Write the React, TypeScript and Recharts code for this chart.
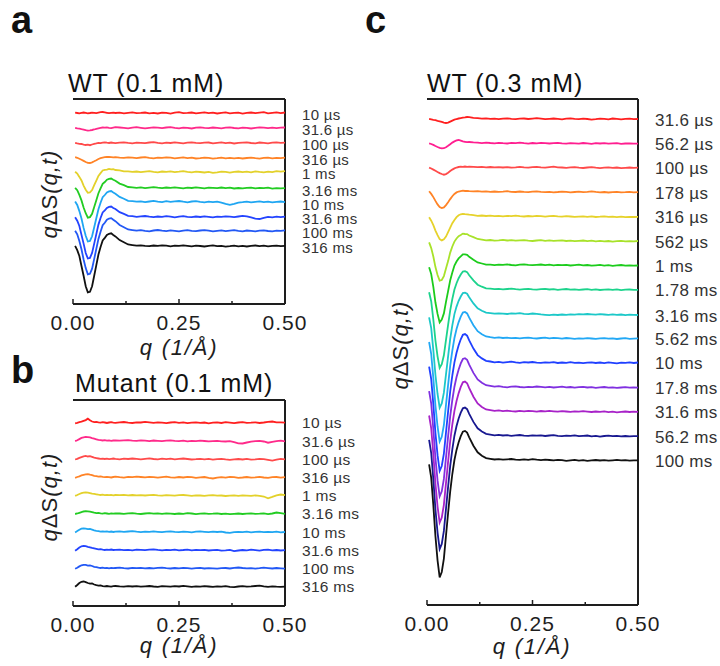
import React from 'react';
import { LineChart, Line, XAxis, YAxis, ReferenceLine } from 'recharts';

const FONT = '"Liberation Sans", Arial, Helvetica, sans-serif';
const INK = '#1e1e1e';
const AXIS_H = 36;
const LM = 30; // room left of the frame for the first tick label

// q grid (1/Å): fine steps through the low-q feature, coarser afterwards
const qGrid = [
  0.005, 0.01, 0.015, 0.02, 0.025, 0.03, 0.035, 0.04, 0.045, 0.05,
  0.055, 0.06, 0.065, 0.07, 0.075, 0.08, 0.085, 0.09, 0.095, 0.1,
  0.11, 0.12, 0.13, 0.14, 0.15, 0.16, 0.17, 0.18, 0.19, 0.2,
  0.21, 0.22, 0.23, 0.24, 0.25, 0.26, 0.27, 0.28, 0.29, 0.3,
  0.31, 0.32, 0.33, 0.34, 0.35, 0.36, 0.37, 0.38, 0.39, 0.4,
  0.41, 0.42, 0.43, 0.44, 0.45, 0.46, 0.47, 0.48, 0.49, 0.5,
];
const qTicks = [0, 0.125, 0.25, 0.375, 0.5];
const qMajor = [0, 0.25, 0.5];

// ---- panel a : WT (0.1 mM) ----
const a_10us = [
  0.3, 0, -0.4, 0.2, 0.5, 0.1, -0.3, 0, 0.4, 0.2, -0.2, 0.3, 0.8, 1.0, 0.6, 0.2, -0.2, 0.1, 0.4, 0,
  0.3, -0.4, 0.2, 0.6, -0.2, 0.1, 0.5, -0.3, 0.2, -0.5, 0.4, 0.1, -0.6, 0.3, 0.8, -0.2, 0.1, 0.5, -0.4, 0.2,
  0.7, -0.1, 0.3, -0.5, 0.2, 0.6, -0.3, 0.1, 0.4, -0.6, 0.2, 0.5, -0.2, 0.3, 0.8, -0.4, 0.1, 0.6, -0.2, 0.5,
];
const a_31_6us = [
  0.2, -0.3, -0.6, -1.2, -1.6, -2.2, -2.6, -2.4, -2.0, -1.5, -0.8, -0.3, 0.2, 0.5, 0.3, 0.6, 0.2, -0.1, 0.4, 0.8,
  0.5, 0.1, -0.3, 0.4, 0.8, 0.2, -0.4, 0.1, 0.6, 0.3, -0.2, 0.5, 0.9, 0.2, -0.3, 0.4, 0.1, -0.5, 0.3, 0.7,
  0.2, -0.2, 0.5, 0.1, -0.4, 0.3, 0.6, 0.0, -0.3, 0.4, 0.2, -0.5, 0.1, 0.6, 0.3, -0.2, 0.4, -0.1, 0.3, 0.5,
];
const a_100us = [
  0.1, -0.4, -0.8, -1.0, -1.6, -2.0, -1.7, -2.2, -1.5, -0.9, -0.4, 0.2, -0.1, 0.4, 0.7, 0.3, 0.0, 0.5, 0.2, -0.2,
  0.3, 0.6, 0.1, -0.3, 0.4, 0.2, -0.2, 0.5, 0.8, 0.1, -0.4, 0.3, 0.0, 0.6, 0.2, -0.3, 0.4, 0.7, 0.1, -0.2,
  0.3, 0.5, -0.4, 0.2, 0.6, -0.1, 0.3, -0.5, 0.1, 0.4, 0.7, 0.0, -0.3, 0.5, 0.2, -0.4, 0.3, 0.6, 0.1, 0.4,
];
const a_316us = [
  0.8, 0.2, -0.8, -1.8, -2.9, -4.0, -4.8, -5.0, -4.3, -3.3, -2.2, -1.0, -0.2, 0.4, 0.8, 1.0, 1.2, 0.9, 0.6, 0.8,
  0.4, 0.1, 0.6, 0.3, -0.2, 0.5, 0.9, 0.2, -0.3, 0.4, 0.1, 0.7, 0.3, -0.4, 0.2, 0.6, -0.1, 0.3, -0.5, -0.2,
  0.4, 0.1, -0.6, -0.2, 0.3, -0.4, 0.1, -0.3, 0.2, -0.5, 0.0, 0.4, -0.2, -0.6, 0.1, 0.3, -0.3, 0.2, -0.1, 0.3,
];
const a_1ms = [
  0.3, -1.5, -4.9, -8.5, -13.6, -17.7, -20.8, -20.4, -18.1, -13.2, -8.6, -3.9, -1.1, 1.5, 2.2, 2.4, 3.1, 2.7, 2.8, 2.0,
  1.6, 0.6, 0.7, 0.1, 0.5, -0.2, 0.4, 0.8, 0.2, -0.3, 0.5, 0.1, 0.6, -0.2, 0.3, 0.9, 0.2, -0.4, 0.3, 0.0,
  -0.5, 0.2, -0.8, -0.3, 0.4, 0.1, -0.6, 0.2, 0.5, -0.2, 0.3, -0.4, 0.6, 0.1, -0.3, 0.4, -0.2, 0.8, 0.3, 0.9,
];
const a_3_16ms = [
  0.2, -2.2, -6.9, -12.4, -19.5, -25.2, -29.6, -29.1, -25.8, -19.0, -12.3, -5.2, -0.4, 4.2, 6.0, 8.3, 9.1, 9.5, 8.2, 7.2,
  4.4, 2.9, 1.0, 0.7, 0.2, 0.6, -0.1, 0.4, 0.9, 0.3, -0.2, 0.5, 0.1, 0.7, 0.2, -0.3, 0.4, 0.0, 0.6, 0.2,
  -0.4, 0.3, 0.1, -0.2, 0.5, -0.1, 0.3, -0.5, 0.0, -0.3, 0.2, 0.4, -0.4, 0.1, -0.2, 0.3, -0.6, -0.1, -0.4, -0.2,
];
const a_10ms = [
  0.4, -3.0, -9.1, -16.5, -25.9, -33.7, -39.5, -38.9, -34.3, -25.3, -16.2, -7.2, -0.8, 4.8, 7.0, 9.6, 10.6, 11.0, 9.5, 8.3,
  5.1, 3.3, 1.2, 0.9, 0.3, 0.7, -0.2, 0.5, 1.1, 0.4, -0.1, 0.8, 0.2, 0.6, 1.0, 0.3, -0.3, 0.5, 0.9, 0.2,
  -0.4, 0.3, -0.2, 0.4, -0.6, -1.8, -2.8, -1.9, -0.7, -0.2, 0.4, -0.3, 0.2, 0.6, -0.1, 0.3, -0.4, 0.2, 0.5, -0.1,
];
const a_31_6ms = [
  -0.2, -3.7, -9.0, -17.9, -26.6, -36.0, -41.5, -40.9, -35.9, -26.6, -17.1, -7.6, -1.0, 4.6, 6.6, 9.1, 10.1, 10.5, 9.0, 8.0,
  4.8, 3.1, 1.2, 0.8, 0.2, 0.6, 1.0, 0.3, -0.2, 0.5, 0.1, 0.8, 0.3, -0.3, 0.4, 0.9, 0.2, -0.1, 0.5, 0.0,
  0.6, 0.2, -0.3, 0.4, 0.1, 0.7, 0.3, -0.2, 0.5, 1.2, 0.6, -0.4, -1.6, -2.0, -0.8, 0.2, -0.3, 0.4, -0.2, 0.3,
];
const a_100ms = [
  0.3, -3.3, -10.0, -18.2, -28.5, -37.1, -43.4, -42.8, -37.7, -27.9, -17.9, -7.9, -0.7, 5.7, 8.3, 11.3, 12.5, 12.9, 11.2, 9.8,
  6.0, 3.8, 1.5, 0.9, 0.3, 0.8, 0.2, -0.3, 0.5, 1.0, 0.4, -0.1, 0.6, 0.2, -0.4, 0.3, 0.8, 0.1, -0.2, 0.5,
  0.9, 0.3, -0.3, 0.2, 0.6, -0.1, 0.4, 0.8, 0.2, -0.3, 0.5, 0.1, -0.4, 0.3, 0.7, 0.0, -0.3, 0.4, 0.2, 0.6,
];
const a_316ms = [
  0.2, -4.1, -10.0, -20.0, -29.8, -40.3, -46.4, -45.8, -40.3, -29.8, -19.1, -8.5, -1.0, 5.5, 8.1, 11.0, 12.2, 12.7, 11.0, 9.6,
  5.9, 3.7, 1.5, 0.9, 0.3, 0.7, 0.2, -0.2, 0.5, 0.1, 0.6, 0.3, -0.3, 0.4, 0.1, 0.7, 0.2, -0.4, 0.3, 0.0,
  -0.5, 0.2, 0.6, -0.2, 0.1, -0.6, -0.2, 0.4, -0.3, 0.2, -0.5, 0.1, 0.5, -0.2, 0.3, -0.4, 0.1, 0.4, -0.2, 0.2,
];

// ---- panel b : Mutant (0.1 mM) ----
const b_10us = [
  -0.6, -0.2, 0.5, 1.0, 1.8, 2.6, 4.0, 2.4, 1.2, 0.6, 0.9, 0.3, 0.1, 0.5, 0.2, -0.3, 0.2, 0.6, 0.1, -0.2,
  0.3, 0.7, 0.1, -0.3, 0.4, 0.2, 0.8, 0.3, -0.2, 0.4, 0.1, -0.4, 0.2, 0.5, -0.1, 0.3, -0.5, 0.1, 0.4, -0.2,
  0.2, -0.6, 0.0, 0.3, -0.3, 0.5, 0.1, -0.4, 0.2, 0.6, -0.2, 0.0, 0.4, -0.3, 0.2, 0.8, 1.2, 0.4, 0.3, 0.1,
];
const b_31_6us = [
  -0.3, 0.6, 1.8, 3.0, 3.6, 4.0, 3.8, 3.5, 2.8, 2.2, 1.6, 1.0, 0.8, 0.4, 0.7, 0.3, 0.5, 0.1, 0.4, 0.6,
  0.2, 0.5, 0.8, 0.3, 0.1, 0.6, 0.2, -0.2, 0.4, 0.1, -0.3, 0.2, 0.5, 0.0, -0.2, 0.3, -0.4, 0.1, -0.3, 0.2,
  -0.1, -0.5, -0.2, 0.1, -0.4, -0.6, -0.3, -1.2, -2.4, -2.6, -1.6, -0.8, -0.3, 0.1, -0.6, -1.8, -0.9, -0.2, 0.3, -0.5,
];
const b_100us = [
  -0.4, 0.2, 1.2, 2.0, 2.8, 3.2, 2.6, 3.0, 2.2, 1.4, 1.0, 0.6, 0.2, 0.5, 0.1, 0.4, -0.1, 0.3, 0.6, 0.2,
  -0.2, 0.4, 0.1, 0.6, 0.2, -0.3, 0.3, 0.7, 0.1, -0.2, 0.4, 0.0, 0.5, -0.3, 0.2, 0.6, 0.1, -0.4, -0.1, 0.3,
  -0.2, 0.2, -0.5, -0.1, 0.3, -0.3, -0.7, -0.2, 0.1, -0.4, 0.2, -0.6, -0.2, 0.3, -0.1, -0.8, -1.5, -0.5, 0.2, -0.3,
];
const b_316us = [
  -0.5, 0.3, 1.0, 1.9, 2.5, 3.0, 3.2, 2.6, 2.2, 1.5, 1.1, 0.6, 0.9, 0.4, 0.1, 0.5, 0.2, -0.2, 0.3, 0.6,
  0.1, -0.3, 0.4, 0.2, 0.7, 0.3, -0.1, 0.5, 0.1, -0.4, 0.2, 0.6, 0.0, -0.3, 0.3, -0.2, 0.4, 0.1, -0.5, -0.1,
  0.3, -0.6, -1.2, -0.4, 0.2, -0.3, 0.4, 0.1, -0.5, -0.2, 0.3, -0.4, 0.0, 0.5, -0.2, -0.6, 0.1, 0.3, -0.3, 0.2,
];
const b_1ms = [
  -0.4, 0.5, 1.5, 2.3, 2.9, 3.2, 2.8, 2.4, 1.9, 1.6, 1.2, 0.8, 0.5, 0.9, 0.4, 0.7, 0.3, 0.6, 0.2, 0.5,
  0.3, 0.6, 0.2, 0.5, 0.1, 0.4, 0.0, 0.3, 0.6, 0.1, -0.2, 0.4, 0.2, -0.1, 0.3, 0.5, 0.1, -0.3, 0.2, 0.0,
  -0.4, 0.1, 0.3, -0.2, 0.0, -0.5, -0.2, 0.1, -0.3, 0.2, -0.1, -0.4, 0.2, -0.3, -1.0, -2.8, -1.4, 0.2, 1.0, 0.4,
];
const b_3_16ms = [
  -0.3, 0.2, 0.9, 1.6, 2.2, 2.5, 2.3, 2.0, 1.6, 1.0, 0.6, 0.8, 0.3, 0.1, 0.5, 0.2, -0.1, 0.3, 0.0, 0.4,
  0.2, -0.2, 0.3, 0.6, 0.1, -0.3, 0.2, 0.5, 0.0, 0.3, -0.2, 0.4, 0.1, -0.3, 0.2, -0.1, 0.5, 0.2, -0.4, 0.1,
  0.3, -0.2, 0.0, 0.4, -0.3, 0.1, -0.5, -0.1, 0.2, -0.3, 0.1, 0.4, -0.2, 0.0, 0.3, -0.4, 0.2, 1.2, 0.5, -0.2,
];
const b_10ms = [
  -0.5, 0.8, 2.2, 3.2, 3.6, 3.3, 2.7, 2.9, 2.2, 1.5, 1.0, 0.7, 0.3, 0.6, 0.2, 0.5, 0.1, 0.4, -0.1, 0.3,
  0.5, 0.1, 0.4, 0.7, 0.2, -0.2, 0.3, 0.0, 0.5, 0.1, -0.3, 0.2, 0.6, 0.1, -0.2, 0.3, 0.0, -0.4, 0.2, 0.5,
  0.1, -0.3, 0.2, -0.1, 0.3, -0.6, -1.0, -0.3, 0.1, -0.2, 0.3, -0.4, 0.0, 0.2, -0.3, 0.1, -0.2, 0.3, -0.4, -0.1,
];
const b_31_6ms = [
  -0.6, 0.9, 2.6, 3.8, 4.2, 3.9, 3.2, 2.8, 2.2, 1.7, 1.2, 0.7, 0.9, 0.4, 0.1, 0.5, 0.2, 0.6, 0.1, 0.3,
  0.4, 0.0, 0.3, -0.2, 0.5, 0.2, -0.1, 0.4, 0.8, 0.2, -0.3, 0.3, 0.0, 0.4, -0.2, 0.1, 0.5, -0.3, 0.2, -0.1,
  0.3, -0.4, 0.0, 0.2, -0.5, -0.2, 0.3, -1.0, -0.4, 0.1, -0.3, 0.4, 0.0, -0.6, 0.2, 0.5, -0.2, 0.1, -0.4, 0.0,
];
const b_100ms = [
  -0.4, 0.6, 1.9, 3.0, 3.5, 3.4, 2.7, 3.0, 2.3, 1.5, 1.2, 0.6, 0.3, 0.7, 0.2, 0.5, 0.0, 0.4, 0.1, 0.3,
  0.6, 0.1, -0.2, 0.4, 0.2, 0.5, -0.1, 0.3, 0.0, 0.4, 0.7, 0.1, -0.2, 0.3, 0.0, 0.5, 0.2, -0.3, 0.1, 0.4,
  -0.2, 0.2, 0.0, -0.4, 0.1, 0.3, -0.2, 0.5, 0.8, 0.3, -0.1, 0.2, -0.3, 0.1, 0.6, 0.2, -0.2, 0.3, 0.0, -0.3,
];
const b_316ms = [
  -0.3, 1.5, 3.5, 4.7, 5.0, 4.4, 3.5, 2.8, 3.0, 2.0, 1.3, 0.8, 1.0, 0.4, 0.1, 0.5, 0.2, -0.1, 0.3, 0.5,
  0.1, -0.2, 0.3, 0.0, 0.4, -0.1, 0.2, 0.5, 0.0, -0.3, 0.3, 0.1, -0.2, 0.4, 0.0, 0.6, 0.2, -0.3, 0.1, -0.2,
  0.3, 0.0, -0.4, 0.2, -0.1, 0.4, -0.3, -0.6, 0.0, 0.3, -0.2, 0.1, 0.5, 0.9, 0.2, -0.3, 0.1, -0.2, -0.4, -0.1,
];

// ---- panel c : WT (0.3 mM) ----
const c_31_6us = [
  0.2, -0.3, -0.8, -1.2, -1.8, -2.3, -2.9, -3.6, -4.0, -3.6, -2.6, -1.6, -0.7, 0.0, 0.5, 0.9, 1.3, 1.6, 2.0, 1.8,
  1.2, 0.8, 0.4, 0.6, 0.1, 0.3, -0.2, 0.4, 0.7, 0.2, -0.1, 0.3, 0.5, 0.0, 0.4, 0.8, 0.3, -0.2, 0.2, 0.5,
  0.1, -0.3, 0.4, 0.6, 0.2, -0.1, 0.3, 0.0, -0.6, -0.2, 0.3, 0.1, -0.4, 0.5, 0.2, -0.3, 0.1, 0.4, -0.2, 0.0,
];
const c_56_2us = [
  0.0, -0.6, -1.5, -2.6, -3.6, -4.4, -5.0, -4.8, -3.8, -2.4, -0.8, 0.8, 2.0, 3.0, 3.4, 2.8, 2.0, 1.6, 1.2, 1.4,
  1.0, 0.7, 0.3, 0.8, 0.4, 0.1, 0.6, 0.2, -0.1, 0.5, 0.3, 0.7, 0.2, -0.2, 0.4, 0.1, 0.6, 0.3, -0.1, 0.2,
  0.5, 0.0, -0.3, 0.3, 0.1, -0.2, 0.4, 0.0, -0.4, 0.2, -0.1, 0.3, -0.3, 0.0, 0.2, -0.4, -0.1, 0.1, -0.3, -0.2,
];
const c_100us = [
  0.1, -0.8, -1.9, -3.1, -4.3, -5.4, -6.3, -7.0, -6.4, -5.0, -3.4, -1.9, -0.7, 0.2, 0.7, 1.0, 0.8, 1.2, 0.9, 1.1,
  0.8, 0.5, 0.9, 0.4, 0.7, 0.3, 0.6, 0.2, 0.5, 0.1, 0.4, 0.8, 0.3, 0.0, 0.5, 0.9, 0.4, 0.1, 0.6, 1.0,
  0.4, 0.2, -0.1, 0.3, 0.6, 0.1, -0.3, 0.2, 0.5, 0.0, -0.4, 0.1, 0.3, -0.2, 0.2, -0.5, -0.1, 0.2, -0.2, 0.0,
];
const c_178us = [
  0.8, -1.8, -5.0, -8.8, -12.3, -14.9, -16.0, -15.3, -13.0, -10.2, -7.0, -4.1, -1.8, -0.3, 0.6, 1.0, 1.4, 1.1, 1.3, 0.9,
  0.7, 1.0, 0.5, 0.8, 0.3, 0.6, 0.2, 0.5, 0.9, 0.3, 0.1, 0.6, 0.2, -0.1, 0.4, 0.7, 0.2, 0.0, 0.3, -0.2,
  0.1, 0.5, 0.2, -0.3, 0.1, 0.4, -0.1, 0.3, 0.8, 0.2, -0.2, 0.1, -0.4, 0.0, 0.3, -0.3, -0.1, 0.2, -0.3, -0.1,
];
const c_316us = [
  -0.8, -4.3, -8.7, -14.2, -18.8, -22.7, -24.0, -22.8, -20.2, -15.8, -11.2, -6.8, -3.6, -0.8, 1.1, 2.1, 2.6, 2.3, 2.1, 1.7,
  1.2, 0.6, 0.9, 0.4, 0.7, 0.2, 0.5, 0.1, 0.6, 0.3, 0.8, 0.2, -0.1, 0.4, 0.0, 0.5, 0.2, -0.2, 0.3, 0.6,
  0.1, -0.3, 0.2, -0.1, -0.5, -0.2, 0.1, -0.4, 0.0, -0.6, -0.3, 0.1, -0.5, -0.2, -0.7, -0.3, -0.8, -0.4, -0.6, -0.5,
];
const c_562us = [
  -1.6, -7.3, -15.7, -26.3, -34.2, -39.8, -39.2, -35.3, -27.7, -20.3, -11.8, -5.7, -0.8, 2.3, 4.7, 5.8, 7.2, 6.8, 6.7, 5.3,
  3.7, 1.8, 1.2, 0.4, 0.8, 0.2, 0.5, 0.9, 0.3, 0.6, 0.1, 0.4, 0.7, 0.2, -0.2, 0.3, 0.6, 0.0, 0.4, -0.1,
  0.2, 0.5, -0.2, 0.1, -0.4, 0.0, 0.3, -0.3, 0.1, -0.5, -0.1, -0.6, -0.2, -0.8, -0.4, -0.1, -0.6, -0.3, -0.5, -0.2,
];
const c_1ms = [
  -2.0, -8.9, -21.7, -37.3, -48.7, -57.2, -54.4, -48.2, -36.7, -26.0, -15.1, -7.2, -0.3, 3.7, 6.8, 8.8, 10.8, 10.9, 10.4, 8.4,
  5.5, 2.8, 1.7, 0.6, 0.5, 0.1, 0.6, 0.3, 0.8, 0.2, -0.1, 0.5, 0.9, 0.3, 0.0, 0.4, 0.7, 0.1, 0.5, -0.2,
  0.3, 0.0, 0.4, -0.3, 0.1, 0.5, -0.2, 0.2, -0.5, -0.1, 0.3, -0.4, 0.0, -0.6, -0.2, 0.2, -0.5, -0.1, -0.4, -0.3,
];
const c_1_78ms = [
  -2.8, -12.0, -30.1, -51.0, -66.8, -78.3, -74.6, -65.8, -50.4, -35.4, -20.8, -9.5, 0.0, 6.3, 11.3, 15.0, 18.0, 18.4, 17.4, 14.2,
  9.1, 4.8, 2.8, 1.1, 0.8, 0.3, 0.6, 0.1, 0.5, 0.9, 0.3, -0.1, 0.4, 0.7, 0.2, -0.2, 0.3, 0.6, 0.0, 0.4,
  -0.3, 0.1, 0.5, -0.2, 0.2, -0.4, 0.0, 0.3, -0.3, 0.1, -0.5, -0.1, 0.2, -0.4, 0.1, -0.6, -0.2, 0.0, -0.4, -0.3,
];
const c_3_16ms = [
  -3.4, -14.3, -36.2, -61.1, -80.1, -93.8, -89.5, -78.8, -60.5, -42.4, -24.9, -11.4, -0.2, 7.3, 13.1, 17.4, 20.8, 21.3, 20.2, 16.6,
  10.5, 5.6, 3.2, 1.3, 0.8, 0.2, 0.6, 0.3, -0.1, 0.5, 0.2, 0.7, 0.1, -0.2, 0.4, 0.0, -0.5, -0.9, -1.3, -0.8,
  -1.1, -0.6, -1.0, -0.4, -0.7, -0.2, -0.5, -0.1, -0.4, -0.8, -0.3, -0.6, -0.9, -0.5, -1.0, -0.6, -1.2, -0.8, -0.9, -1.1,
];
const c_5_62ms = [
  -3.8, -15.8, -39.9, -67.3, -88.3, -103.3, -98.6, -86.8, -66.7, -46.7, -27.5, -12.4, 0.2, 9.1, 16.1, 21.5, 25.6, 26.3, 24.8, 20.5,
  12.9, 7.0, 3.9, 1.7, 1.0, 0.4, 0.8, 0.2, 0.5, 0.0, 0.4, -0.2, 0.3, 0.6, 0.1, -0.3, 0.2, 0.5, -0.1, 0.3,
  0.0, -0.4, 0.2, -0.2, -0.6, -0.1, -0.4, 0.1, -0.3, -0.7, -0.2, 0.0, -0.5, -0.2, -0.8, -0.3, 0.1, -0.6, -0.4, -0.2,
];
const c_10ms = [
  -4.0, -16.5, -41.8, -70.5, -92.6, -108.3, -103.4, -91.0, -69.9, -48.9, -28.9, -12.9, 0.3, 9.8, 17.4, 23.3, 27.8, 28.5, 26.9, 22.2,
  14.0, 7.5, 4.2, 1.8, 1.1, 0.3, 0.7, 0.0, 0.5, 0.9, 0.2, -0.2, 0.4, 0.1, 0.6, 0.0, -0.3, 0.3, -0.1, 0.4,
  -0.4, 0.1, -0.2, 0.5, -0.3, 0.0, -0.6, -0.1, 0.2, -0.4, 0.1, -0.5, 0.3, -0.2, -0.7, 0.0, -0.3, 0.2, -0.4, 0.1,
];
const c_17_8ms = [
  -4.1, -16.7, -42.2, -71.2, -93.4, -109.3, -104.3, -91.9, -70.6, -49.4, -29.1, -13.0, 0.3, 10.0, 17.6, 23.6, 28.0, 28.8, 27.2, 22.4,
  14.1, 7.6, 4.3, 1.8, 1.2, 0.4, 0.8, 0.1, -0.3, 0.3, 0.6, 0.0, -0.4, 0.2, -0.2, 0.5, 0.1, -0.3, 0.2, -0.5,
  -0.1, 0.3, -0.4, 0.0, -0.6, -0.2, 0.2, -0.5, -0.1, -0.8, -0.4, 0.0, -0.6, -0.3, -0.9, -0.5, -0.2, -0.7, -0.4, -0.6,
];
const c_31_6ms = [
  -4.2, -17.0, -43.0, -72.5, -95.2, -111.3, -106.3, -93.5, -71.9, -50.3, -29.7, -13.2, 0.4, 10.3, 18.2, 24.4, 29.0, 29.8, 28.1, 23.2,
  14.6, 7.9, 4.4, 1.9, 1.2, 0.5, 0.9, 0.2, 0.6, 0.1, -0.2, 0.4, 0.0, 0.5, 0.2, -0.3, 0.3, -0.1, 0.4, 0.0,
  -0.4, 0.2, -0.2, -0.6, -0.1, -0.4, 0.1, -0.3, -0.7, -0.2, -0.5, -0.1, -0.8, -0.4, -1.0, -0.5, -0.2, -0.7, -0.3, -0.5,
];
const c_56_2ms = [
  -4.2, -17.3, -43.8, -73.8, -96.9, -113.3, -108.2, -95.2, -73.2, -51.2, -30.2, -13.6, 0.0, 9.7, 17.2, 23.0, 27.4, 28.1, 26.5, 21.9,
  13.8, 7.4, 4.2, 1.8, 1.1, 0.4, 0.8, 0.2, 0.5, -0.1, 0.3, 0.7, 0.1, -0.2, 0.4, 0.0, 0.3, -0.3, 0.2, 0.5,
  -0.1, -0.4, 0.1, -0.2, 0.3, -0.5, -0.1, 0.2, -0.6, -0.2, -0.9, -0.3, 0.0, -0.5, -0.2, -0.7, -0.3, -0.6, -0.4, -0.5,
];
const c_100ms = [
  -4.4, -17.9, -45.3, -76.3, -100.3, -117.3, -112.0, -98.6, -75.7, -53.0, -31.3, -14.0, 0.0, 10.1, 17.8, 23.8, 28.3, 29.1, 27.4, 22.7,
  14.3, 7.7, 4.3, 1.9, 1.2, 0.5, 0.9, 0.3, 0.7, 1.0, 0.4, 0.1, 0.6, 0.2, 0.8, 0.3, -0.1, 0.4, 0.0, -0.4,
  0.2, -0.2, -0.8, -0.3, 0.1, -0.6, -0.2, -0.9, -0.4, 0.0, -0.5, -0.2, -0.7, -0.3, 0.1, -0.4, -0.2, -0.6, -0.3, -0.4,
];

const labelsA = ['10 µs', '31.6 µs', '100 µs', '316 µs', '1 ms', '3.16 ms', '10 ms', '31.6 ms', '100 ms', '316 ms'];
const labelsB = labelsA;
const labelsC = [
  '31.6 µs', '56.2 µs', '100 µs', '178 µs', '316 µs', '562 µs', '1 ms', '1.78 ms',
  '3.16 ms', '5.62 ms', '10 ms', '17.8 ms', '31.6 ms', '56.2 ms', '100 ms',
];

// vertical offsets used to stack the traces
const offsetsA = [0, -15, -30, -45, -59, -75, -89, -104, -118, -133];
const offsetsB = [0, -18.2, -36.4, -54.6, -72.8, -91, -109.2, -127.4, -145.6, -163.8];
const offsetsC = [0, -24.4, -48.7, -73.1, -97.4, -121.8, -146.2, -170.5, -194.9, -219.2, -243.6, -268, -292.3, -316.7, -341];

const sigA = [a_10us, a_31_6us, a_100us, a_316us, a_1ms, a_3_16ms, a_10ms, a_31_6ms, a_100ms, a_316ms];
const sigB = [b_10us, b_31_6us, b_100us, b_316us, b_1ms, b_3_16ms, b_10ms, b_31_6ms, b_100ms, b_316ms];
const sigC = [
  c_31_6us, c_56_2us, c_100us, c_178us, c_316us, c_562us, c_1ms, c_1_78ms,
  c_3_16ms, c_5_62ms, c_10ms, c_17_8ms, c_31_6ms, c_56_2ms, c_100ms,
];

const colorsAB = ['#ff1f1f', '#ff2a8a', '#ff4a4a', '#ff8326', '#e3d12b', '#22cc22', '#1fa6f2', '#2344ff', '#2258f5', '#111111'];
const colorsC = [
  '#ff1f1f', '#ff1e90', '#ff4a4a', '#ff8326', '#e6d22b', '#a8e22a', '#1ccc1c', '#1cd38c',
  '#1cc8c8', '#22a8f5', '#2040ff', '#8030e0', '#a822c8', '#181890', '#111111',
];

function buildRows(signals: number[][], offsets: number[]) {
  return qGrid.map((q, i) => {
    const row: Record<string, number> = { q };
    signals.forEach((s, k) => {
      row['s' + k] = s[i] + offsets[k];
    });
    return row;
  });
}

function QTick(props: any) {
  const { x, y, payload } = props;
  const v = payload.value;
  const major = qMajor.includes(v);
  const axisY = y - 11;
  return (
    <g>
      <line x1={x} x2={x} y1={axisY} y2={axisY - (major ? 5 : 3)} stroke={INK} strokeWidth={1.5} />
      {major && (
        <text x={x} y={y} dy="0.72em" textAnchor="middle" fontSize={21} fill={INK} letterSpacing={1}>
          {v.toFixed(2)}
        </text>
      )}
    </g>
  );
}

function endLabel(text: string, size: number, dy: number) {
  const last = qGrid.length - 1;
  return (lp: any) => {
    if (lp.index !== last) return null;
    const x = lp.x ?? lp.viewBox?.x;
    const y = lp.y ?? lp.viewBox?.y;
    return (
      <text x={x + 17} y={y + dy} fontSize={size} fill="#333" dominantBaseline="central" letterSpacing={0.3}>
        {text}
      </text>
    );
  };
}

interface PanelProps {
  signals: number[][];
  offsets: number[];
  labels: string[];
  colors: string[];
  domain: [number, number];
  plotX: number;
  plotY: number;
  plotW: number;
  plotH: number;
  right: number;
  labelSize: number;
  labelDy: number;
}

function Panel(p: PanelProps) {
  const rows = buildRows(p.signals, p.offsets);
  return (
    <div style={{ position: 'absolute', left: p.plotX - LM, top: p.plotY - 2 }}>
      <LineChart
        width={LM + p.plotW + p.right}
        height={2 + p.plotH + AXIS_H}
        data={rows}
        margin={{ top: 2, right: p.right, bottom: 0, left: LM }}
      >
        <XAxis
          dataKey="q"
          type="number"
          domain={[0, 0.5]}
          ticks={qTicks}
          interval={0}
          height={AXIS_H}
          tickSize={0}
          tickMargin={11}
          tickLine={false}
          axisLine={{ stroke: INK, strokeWidth: 2 }}
          tick={QTick}
        />
        <YAxis
          type="number"
          domain={p.domain}
          width={0}
          tick={false}
          tickLine={false}
          axisLine={{ stroke: INK, strokeWidth: 2 }}
        />
        <ReferenceLine y={p.domain[1]} stroke={INK} strokeWidth={2} />
        <ReferenceLine x={0.5} stroke={INK} strokeWidth={2} />
        {p.labels.map((name, k) => (
          <Line
            key={'s' + k}
            dataKey={'s' + k}
            type="linear"
            stroke={p.colors[k]}
            strokeWidth={1.8}
            dot={false}
            activeDot={false}
            isAnimationActive={false}
            label={endLabel(name, p.labelSize, p.labelDy)}
          />
        ))}
      </LineChart>
    </div>
  );
}

function YLabel({ x, cy }: { x: number; cy: number }) {
  return (
    <text transform={`translate(${x},${cy}) rotate(-90)`} textAnchor="middle" fontSize={22} letterSpacing={1} fill={INK}>
      <tspan fontStyle="italic">q</tspan>ΔS<tspan fontStyle="italic">(q,t)</tspan>
    </text>
  );
}

function XLabel({ cx, y }: { cx: number; y: number }) {
  return (
    <text x={cx} y={y} textAnchor="middle" fontSize={22} fontStyle="italic" letterSpacing={1.8} fill={INK}>
      q (1/Å)
    </text>
  );
}

export default function App() {
  return (
    <div style={{ position: 'absolute', left: 0, top: 0, width: 720, height: 666, background: '#fff', fontFamily: FONT }}>
      <Panel signals={sigA} offsets={offsetsA} labels={labelsA} colors={colorsAB} domain={[-191, 14]}
        plotX={73} plotY={99} plotW={212} plotH={205} right={75} labelSize={15} labelDy={2} />
      <Panel signals={sigB} offsets={offsetsB} labels={labelsB} colors={colorsAB} domain={[-183.3, 22.7]}
        plotX={73} plotY={400} plotW={212} plotH={206} right={75} labelSize={15.5} labelDy={0} />
      <Panel signals={sigC} offsets={offsetsC} labels={labelsC} colors={colorsC} domain={[-486, 20]}
        plotX={427} plotY={99} plotW={211} plotH={506} right={82} labelSize={17} labelDy={1} />
      <svg width={720} height={666} style={{ position: 'absolute', left: 0, top: 0, pointerEvents: 'none' }} fontFamily={FONT}>
        <text x={11} y={33} fontSize={38} fontWeight="bold" fill="#111">a</text>
        <text x={11} y={383} fontSize={38} fontWeight="bold" fill="#111">b</text>
        <text x={365} y={33} fontSize={38} fontWeight="bold" fill="#111">c</text>
        <text x={68} y={92} fontSize={25} letterSpacing={1} fill="#111">WT (0.1 mM)</text>
        <text x={75} y={392} fontSize={25} letterSpacing={1} fill="#111">Mutant (0.1 mM)</text>
        <text x={427} y={92} fontSize={25} letterSpacing={1} fill="#111">WT (0.3 mM)</text>
        <XLabel cx={179} y={355} />
        <XLabel cx={179} y={653} />
        <XLabel cx={532} y={654} />
        <YLabel x={57} cy={194} />
        <YLabel x={57} cy={497} />
        <YLabel x={408} cy={345} />
      </svg>
    </div>
  );
}
